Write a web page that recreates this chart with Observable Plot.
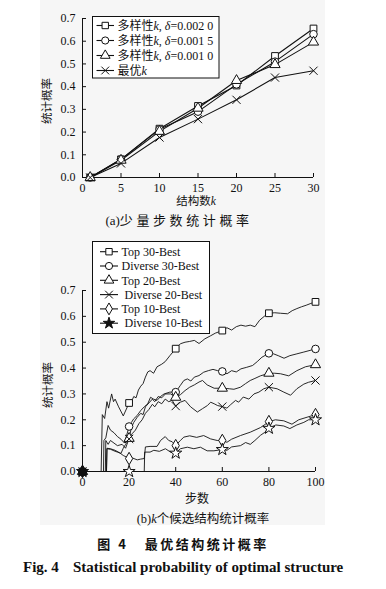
<!DOCTYPE html>
<html><head><meta charset="utf-8">
<script src="https://cdn.jsdelivr.net/npm/d3@7"></script>
<script src="https://cdn.jsdelivr.net/npm/@observablehq/plot@0.6"></script>
<style>
html,body{margin:0;padding:0;background:#fff;}
body{width:386px;height:589px;position:relative;overflow:hidden;font-family:"Liberation Serif","Noto Sans CJK SC",serif;color:#111;}
.abs{position:absolute;white-space:nowrap;transform:translate(-50%,-50%);line-height:1;}
.lft{position:absolute;white-space:nowrap;transform:translate(0,-50%);line-height:1;}
#panel{position:absolute;left:40px;top:0;width:285px;height:525px;background:#f6f6f6;}
#a,#b,#over{position:absolute;left:0;}
#a{top:0}#b{top:230px}#over{top:0;pointer-events:none}
</style></head><body>
<div id="panel"></div>
<div id="a"></div>
<div id="b"></div>
<svg id="over" width="386" height="589"></svg>
<div class="abs" style="left:48px;top:101px;transform:translate(-50%,-50%) rotate(-90deg);font-size:11.5px;">统计概率</div>
<div class="abs" style="left:196px;top:202px;font-size:11.5px;">结构数<i>k</i></div>
<div class="abs" style="left:179px;top:220px;font-size:13px;"><span>(a)</span><span style="letter-spacing:3.6px;">少量步数统计概率</span></div>
<div class="abs" style="left:49px;top:385px;transform:translate(-50%,-50%) rotate(-90deg);font-size:11.5px;">统计概率</div>
<div class="abs" style="left:197px;top:499px;font-size:12px;">步数</div>
<div class="abs" style="left:203px;top:519px;font-size:12.5px;">(b)<i>k</i>个候选结构统计概率</div>
<div class="abs" style="left:183px;top:543px;font-size:13px;font-weight:bold;font-family:'Noto Sans CJK SC';letter-spacing:2.5px;">图 4&nbsp;&nbsp;&nbsp;最优结构统计概率</div>
<div class="lft" style="left:23px;top:567px;font-size:15px;font-weight:bold;font-family:'Liberation Serif';">Fig. 4</div>
<div class="lft" style="left:73px;top:567px;font-size:15px;font-weight:bold;font-family:'Liberation Serif';">Statistical probability of optimal structure</div>
<script>
// ---------- (a) data ----------
const kSteps = [1, 5, 10, 15, 20, 25, 30];
const div0020 = [0, 0.080, 0.215, 0.315, 0.405, 0.535, 0.656];
const div0015 = [0, 0.080, 0.212, 0.290, 0.410, 0.510, 0.631];
const div0010 = [0, 0.076, 0.203, 0.305, 0.427, 0.497, 0.596];
const bestK   = [0, 0.062, 0.176, 0.257, 0.342, 0.440, 0.470];
const namesA = ["多样性k, δ=0.002 0", "多样性k, δ=0.001 5", "多样性k, δ=0.001 0", "最优k"];
const symbolsA = ["square", "circle", "triangle", "times"];
const xTicksA = [0, 5, 10, 15, 20, 25, 30];
const yTicks = [0, 0.1, 0.2, 0.3, 0.4, 0.5, 0.6, 0.7];

// ---------- (b) data: [step, probability] ----------
const top30 = [[0,0],[8,0],[8.5,0.22],[9.5,0.205],[10.5,0.27],[11.2,0.245],[12.5,0.30],[13.3,0.27],[14,0.28],[15.5,0.25],[17.5,0.215],[20,0.265],[21,0.27],[22,0.29],[23,0.285],[24,0.315],[25,0.33],[26,0.34],[27,0.365],[28,0.385],[29,0.39],[30.5,0.38],[32,0.405],[34,0.415],[35.5,0.425],[37.5,0.448],[40,0.475],[42,0.494],[44,0.50],[46,0.503],[48,0.507],[50,0.495],[52.5,0.513],[55,0.525],[57,0.535],[60,0.545],[62,0.556],[64,0.547],[66,0.56],[68,0.566],[70,0.562],[72,0.566],[74,0.56],[76,0.585],[78,0.6],[80,0.612],[82.5,0.614],[85,0.612],[88,0.61],[90,0.622],[92,0.63],[94,0.637],[96,0.643],[98,0.65],[100,0.656]];
const diverse30 = [[0,0],[9,0],[9.2,0.12],[10,0.13],[11,0.178],[12,0.16],[13.5,0.15],[15,0.135],[16.5,0.125],[18,0.11],[20,0.174],[21,0.19],[22,0.204],[23.5,0.217],[25,0.236],[26.5,0.25],[28,0.262],[29.2,0.287],[30.5,0.28],[32,0.275],[33.5,0.29],[35,0.30],[37.5,0.307],[40,0.307],[41,0.32],[42,0.333],[43.5,0.352],[45,0.358],[46.5,0.35],[48,0.365],[50,0.371],[52,0.384],[54,0.39],[56,0.395],[58,0.39],[60,0.387],[62,0.378],[64,0.39],[66,0.385],[68,0.397],[70.5,0.403],[73,0.41],[75,0.425],[77,0.442],[80,0.457],[82,0.455],[84,0.448],[86.5,0.438],[89,0.448],[92,0.455],[95,0.462],[100,0.474]];
const top20 = [[0,0],[9.8,0],[10,0.12],[11,0.105],[12,0.12],[13.5,0.11],[15,0.10],[17,0.105],[18.5,0.09],[20,0.128],[21,0.17],[22,0.19],[23.5,0.21],[25,0.225],[26,0.22],[27,0.25],[28.5,0.265],[30,0.28],[31,0.27],[32.5,0.29],[34,0.285],[35.6,0.30],[37.8,0.30],[40,0.287],[42,0.297],[44,0.313],[46,0.326],[48,0.335],[50,0.346],[51.5,0.352],[53.5,0.335],[56.5,0.322],[60,0.322],[63,0.32],[65,0.318],[67.8,0.326],[70,0.34],[72,0.352],[74,0.36],[76.4,0.37],[80,0.38],[82.5,0.38],[85,0.378],[88.5,0.37],[92,0.39],[95.7,0.405],[100,0.413]];
const diverse20 = [[0,0],[10.3,0],[10.5,0.088],[12,0.086],[13.5,0.08],[15,0.075],[16.5,0.07],[17.5,0.09],[18.5,0.105],[20,0.126],[21.3,0.146],[22.7,0.16],[24.2,0.185],[25.6,0.20],[27,0.225],[28.5,0.24],[30,0.26],[31,0.25],[32.5,0.27],[34,0.262],[35.5,0.28],[37,0.27],[38.5,0.275],[40,0.253],[42,0.268],[44,0.275],[46.4,0.25],[49.3,0.23],[51.5,0.243],[53.6,0.255],[55,0.268],[56.5,0.262],[58,0.255],[60,0.251],[62,0.245],[63.5,0.258],[65.7,0.275],[67,0.268],[69,0.288],[71.4,0.28],[73.6,0.30],[75.7,0.307],[77.8,0.32],[80,0.326],[83.5,0.32],[86.4,0.307],[89.3,0.295],[92,0.32],[95,0.338],[97,0.345],[100,0.352]];
const top10 = [[0,0],[10.3,0],[10.5,0.09],[12,0.088],[14,0.082],[16,0.072],[17.5,0.062],[19,0.055],[20,0.05],[21.5,0.052],[23.5,0.045],[25,0.048],[26.5,0.05],[27,0.095],[29,0.097],[32,0.097],[33.5,0.12],[35.5,0.135],[37,0.12],[38.5,0.115],[40,0.10],[42,0.12],[43.5,0.133],[46,0.138],[49,0.132],[52,0.139],[55,0.126],[57.8,0.12],[60,0.12],[62,0.113],[64,0.125],[67.8,0.139],[72,0.152],[76.4,0.17],[78,0.18],[80,0.193],[82.8,0.2],[86.4,0.196],[89.9,0.183],[92.8,0.2],[96.4,0.21],[100,0.22]];
const diverse10 = [[0,0],[20,0],[26.5,0],[26.7,0.075],[29,0.075],[30.6,0.082],[33,0.078],[35.6,0.088],[37.8,0.075],[40,0.071],[42,0.088],[45,0.094],[47.8,0.088],[50.6,0.094],[53.5,0.08],[56.4,0.08],[60,0.085],[62,0.082],[64,0.095],[67.8,0.1],[70,0.112],[72,0.105],[74,0.12],[76.4,0.14],[78,0.15],[80,0.167],[83,0.18],[86.4,0.176],[89,0.166],[92,0.18],[95,0.19],[97,0.2],[100,0.2]];
const namesB = ["Top 30-Best", "Diverse 30-Best", "Top 20-Best", " Diverse 20-Best", "Top 10-Best", " Diverse 10-Best"];
const symbolsB = ["square", "circle", "triangle", "times", "diamond", "star"];
const markerSteps = [0, 20, 40, 60, 80, 100];
const xTicksB = [0, 20, 40, 60, 80, 100];

const fmt = d3.format(".1f");
const baseStyle = {background: "transparent", fontFamily: "Liberation Serif", fontSize: "12px", color: "#111", overflow: "visible"};

// ---------- chart (a) ----------
const dataA = [div0020, div0015, div0010, bestK].flatMap((vals, s) =>
  vals.map((v, i) => ({k: kSteps[i], p: v, s: namesA[s]})));
const chartA = Plot.plot({
  width: 386, height: 200, marginLeft: 82, marginRight: 73, marginTop: 18, marginBottom: 23,
  style: baseStyle,
  x: {domain: [0, 30]}, y: {domain: [0, 0.7]},
  symbol: {domain: namesA, range: symbolsA},
  marks: [
    Plot.axisX({ticks: xTicksA, tickSize: -4, tickPadding: 10, tickFormat: d => d, label: null}),
    Plot.axisY({ticks: yTicks, tickSize: -4, tickPadding: 11, tickFormat: fmt, label: null}),
    Plot.ruleX([0]), Plot.ruleY([0]),
    Plot.line(dataA, {x: "k", y: "p", z: "s", stroke: "#111", strokeWidth: 1.1}),
    Plot.dot(dataA, {x: "k", y: "p", symbol: "s", r: 3.8, fill: "white", stroke: "#111", strokeWidth: 1})
  ]
});
document.getElementById("a").append(chartA);

// ---------- chart (b) ----------
const seriesB = [top30, diverse30, top20, diverse20, top10, diverse10];
const dataB = seriesB.flatMap((arr, s) => arr.map(([t, p]) => ({t, p, s: namesB[s]})));
const markB = dataB.filter(d => markerSteps.includes(d.t));
const chartB = Plot.plot({
  width: 386, height: 265, marginLeft: 82, marginRight: 71, marginTop: 60, marginBottom: 24,
  style: baseStyle,
  x: {domain: [0, 100]}, y: {domain: [0, 0.7]},
  symbol: {domain: namesB, range: symbolsB},
  marks: [
    Plot.axisX({ticks: xTicksB, tickSize: -4, tickPadding: 10, tickFormat: d => d, label: null}),
    Plot.axisY({ticks: yTicks, tickSize: -4, tickPadding: 11, tickFormat: fmt, label: null}),
    Plot.ruleX([0]), Plot.ruleY([0]),
    Plot.line(dataB, {x: "t", y: "p", z: "s", stroke: "#111", strokeWidth: 0.9}),
    Plot.dot(markB, {x: "t", y: "p", symbol: "s", r: 3.8, fill: d => d.t === 0 ? "#111" : "white", stroke: "#111", strokeWidth: 1})
  ]
});
document.getElementById("b").append(chartB);

// ---------- legends ----------
const symMap = {square: d3.symbolSquare, circle: d3.symbolCircle, triangle: d3.symbolTriangle,
  times: d3.symbolTimes, diamond: d3.symbolDiamond, star: d3.symbolStar};
const over = d3.select("#over");
function richText(sel, str) {
  const parts = str.split(/([kδ])/);
  parts.forEach(p => {
    if (!p) return;
    const ts = sel.append("tspan").text(p);
    if (p === "k" || p === "δ") ts.attr("font-style", "italic");
  });
}
function legend(box, rows, names, symbols, lineX, textX, italic, starFill) {
  over.append("rect").attr("x", box[0]).attr("y", box[1]).attr("width", box[2]).attr("height", box[3])
    .attr("fill", "white").attr("stroke", "#111").attr("stroke-width", 1);
  names.forEach((n, i) => {
    const y = rows[i];
    over.append("line").attr("x1", lineX[0]).attr("x2", lineX[1]).attr("y1", y).attr("y2", y)
      .attr("stroke", "#111").attr("stroke-width", 1.1);
    over.append("path").attr("transform", `translate(${(lineX[0] + lineX[1]) / 2},${y})`)
      .attr("d", d3.symbol(symMap[symbols[i]], Math.PI * 3.6 * 3.6)())
      .attr("fill", symbols[i] === "star" ? starFill : "white").attr("stroke", "#111").attr("stroke-width", 1);
    const t = over.append("text").attr("x", textX).attr("y", y).attr("dy", "0.35em")
      .attr("font-family", "Liberation Serif, Noto Sans CJK SC").attr("font-size", 12)
      .attr("fill", "#111").style("white-space", "pre");
    if (italic) richText(t, n); else t.text(n);
  });
}
legend([92.5, 16.5, 126.5, 61.5], [25.5, 40.5, 55.5, 70.5], namesA, symbolsA, [96.5, 114], 117.5, true, "white");
legend([92.5, 241.5, 117, 92], [251.7, 266, 280.3, 294.6, 308.9, 323.2], namesB, symbolsB, [100, 118], 121.5, false, "#111");
</script>
</body></html>
